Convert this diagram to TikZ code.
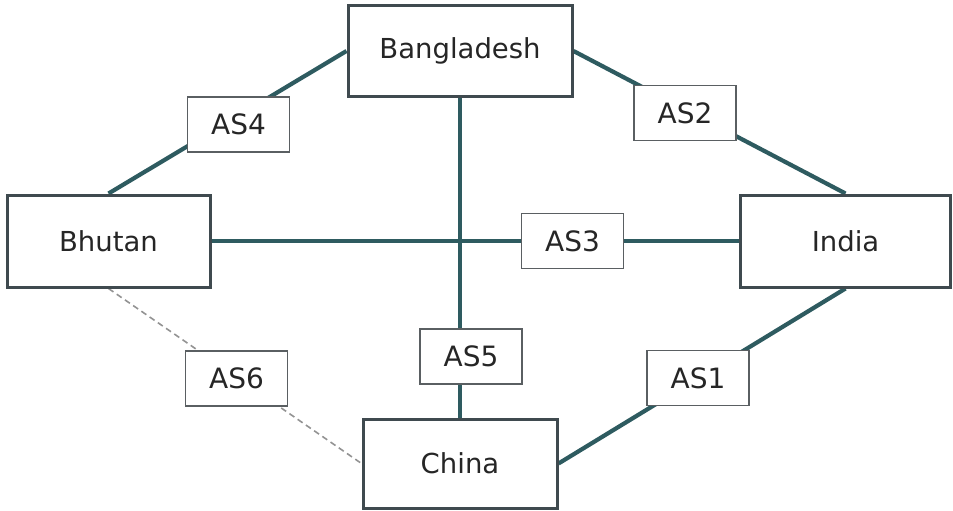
\documentclass[tikz,border=0pt]{standalone}
\usepackage{fontspec}
\setmainfont{DejaVu Sans}
\begin{document}
\begin{tikzpicture}[x=1pt,y=-1pt,
  country/.style={draw=boxc,line width=3pt,fill=white,inner sep=0pt,font=\fontsize{27.5}{32}\selectfont,text=black!85},
  asbox/.style={draw=labc,line width=1.4pt,fill=white,inner sep=0pt,minimum width=102pt,minimum height=55pt,font=\fontsize{28}{32}\selectfont,text=black!85},
  link/.style={draw=linkc,line width=4.2pt},
  weak/.style={draw=gray!85,line width=1.6pt,dash pattern=on 6pt off 4pt}]
\definecolor{boxc}{HTML}{3F4A4F}
\definecolor{labc}{HTML}{5A5F62}
\definecolor{linkc}{HTML}{2E5B60}
\useasboundingbox (0,0) rectangle (953,511);
\node[country,minimum width=224pt,minimum height=90pt] (bd) at (460,51) {Bangladesh};
\node[country,minimum width=203pt,minimum height=92pt] (bt) at (108.5,241) {Bhutan};
\node[country,minimum width=210pt,minimum height=92pt] (in) at (845.5,241) {India};
\node[country,minimum width=194pt,minimum height=89pt] (cn) at (460,463.5) {China};
\draw[link] (bd.west) -- (bt.north);
\draw[link] (bd.east) -- (in.north);
\draw[link] (bt.east) -- (in.west);
\draw[link] (bd.south) -- (cn.north);
\draw[link] (in.south) -- (cn.east);
\draw[weak] (bt.south) -- (cn.west);
\node[country,minimum width=224pt,minimum height=90pt] at (bd) {Bangladesh};
\node[country,minimum width=203pt,minimum height=92pt] at (bt) {Bhutan};
\node[country,minimum width=210pt,minimum height=92pt] at (in) {India};
\node[country,minimum width=194pt,minimum height=89pt] at (cn) {China};
\node[asbox] (as4) at (238.5,124.5) {AS4};
\node[asbox] (as2) at (685,113) {AS2};
\node[asbox] (as3) at (572.5,241) {AS3};
\node[asbox] (as5) at (471,356.5) {AS5};
\node[asbox] (as6) at (236.5,378.5) {AS6};
\node[asbox] (as1) at (698,378) {AS1};
\end{tikzpicture}
\end{document}
